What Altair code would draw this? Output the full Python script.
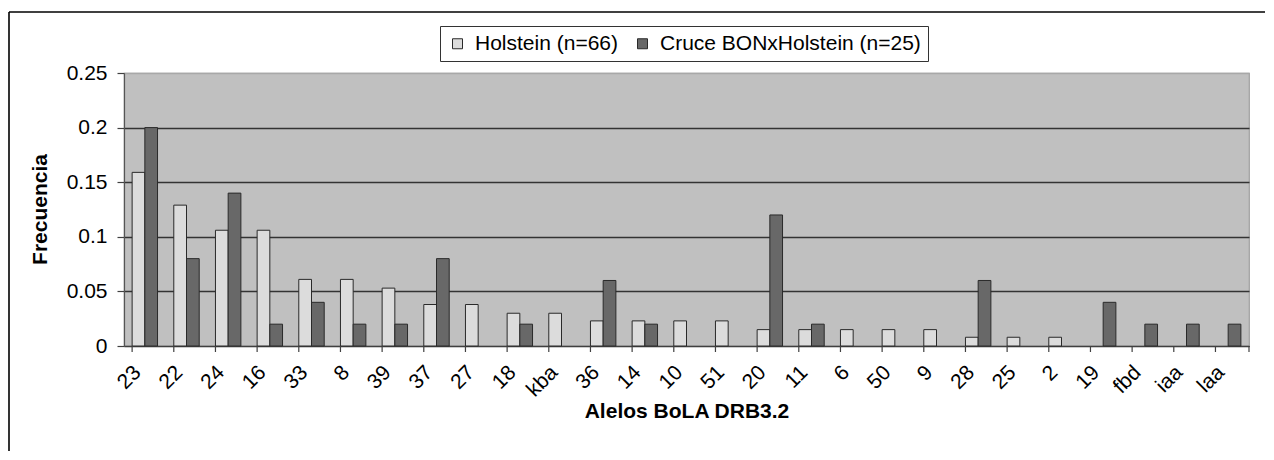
import altair as alt
import pandas as pd

alelos = ["23", "22", "24", "16", "33", "8", "39", "37", "27", "18", "kba", "36", "14",
          "10", "51", "20", "11", "6", "50", "9", "28", "25", "2", "19", "fbd", "iaa", "laa"]
holstein = [0.159, 0.129, 0.106, 0.106, 0.061, 0.061, 0.053, 0.038, 0.038, 0.030, 0.030,
            0.023, 0.023, 0.023, 0.023, 0.015, 0.015, 0.015, 0.015, 0.015, 0.008, 0.008,
            0.008, 0.0, 0.0, 0.0, 0.0]
cruce = [0.20, 0.08, 0.14, 0.02, 0.04, 0.02, 0.02, 0.08, 0.0, 0.02, 0.0, 0.06, 0.02,
         0.0, 0.0, 0.12, 0.02, 0.0, 0.0, 0.0, 0.06, 0.0, 0.0, 0.04, 0.02, 0.02, 0.02]
series = ["Holstein (n=66)", "Cruce BONxHolstein (n=25)"]
y_ticks = [0, 0.05, 0.1, 0.15, 0.2, 0.25]

rows = []
for a, h, c in zip(alelos, holstein, cruce):
    rows.append({"alelo": a, "serie": series[0], "frecuencia": h})
    rows.append({"alelo": a, "serie": series[1], "frecuencia": c})
df = pd.DataFrame(rows)
cats = pd.DataFrame({"alelo": alelos})

FONT = "Liberation Sans"
H = 273

x_enc = alt.X(
    "alelo:N",
    sort=alelos,
    scale=alt.Scale(paddingInner=0.39, paddingOuter=0.195),
    axis=alt.Axis(
        title="Alelos BoLA DRB3.2",
        titleFont=FONT, titleFontSize=21, titleFontWeight="bold", titleColor="black",
        titleY=65, titleBaseline="middle",
        labelFont=FONT, labelFontSize=21, labelColor="black",
        labelAngle=315, labelAlign="right", labelBaseline="middle",
        labelPadding=17, labelOffset=-7, labelOverlap=False,
        tickSize=6, tickOpacity=0,
        domainColor="#404040", domainWidth=1.2,
    ),
)

bars = alt.Chart(df).transform_filter("datum.frecuencia > 0").mark_bar(
    stroke="#2a2a2a", strokeWidth=1
).encode(
    x=x_enc,
    xOffset=alt.XOffset("serie:N", sort=series, scale=alt.Scale(paddingInner=0, paddingOuter=0)),
    y=alt.Y(
        "frecuencia:Q",
        scale=alt.Scale(domain=[0, 0.25], nice=False),
        axis=alt.Axis(
            title="Frecuencia", values=y_ticks,
            titleFont=FONT, titleFontSize=21, titleFontWeight="bold", titleColor="black",
            titleAngle=270, titleX=-84, titleY=136, titleAlign="center", titleBaseline="middle",
            labelFont=FONT, labelFontSize=21, labelColor="black", labelPadding=10,
            labelExpr="format(datum.value, '~g')",
            tickSize=7, tickColor="#404040", tickWidth=1.2,
            domainColor="#555555", domainWidth=1.2,
            grid=True, gridWidth=1.5,
            gridColor={"condition": {"test": "datum.value >= 0.25", "value": "#a8a8a8"}, "value": "#333333"},
        ),
    ),
    color=alt.Color(
        "serie:N",
        sort=series,
        scale=alt.Scale(domain=series, range=["#dcdcdc", "#686868"]),
        legend=alt.Legend(
            title=None, orient="none", legendX=316, legendY=-47, direction="horizontal",
            labelFont=FONT, labelFontSize=21, labelColor="black", labelLimit=500,
            symbolType="square", symbolSize=100, symbolStrokeColor="#2a2a2a", symbolStrokeWidth=1,
            labelOffset=7, columnPadding=14, padding=7,
            strokeColor="#333333", fillColor="white",
        ),
    ),
)

# category separator ticks on the x axis (at the left edge of each band)
sep_ticks = alt.Chart(cats).mark_rule(color="#404040", strokeWidth=1.2).encode(
    x=alt.X("alelo:N", sort=alelos, bandPosition=0),
    y=alt.value(H),
    y2=alt.value(H + 6),
)
end_tick = alt.Chart(alt.Data(values=[{}])).mark_rule(color="#404040", strokeWidth=1.2).encode(
    x=alt.value(1125), y=alt.value(H), y2=alt.value(H + 6)
)

frame_left = alt.Chart(alt.Data(values=[{}])).mark_rule(color="black", strokeWidth=1.6).encode(
    x=alt.value(-115), y=alt.value(-61), y2=alt.value(380)
)
frame_top = alt.Chart(alt.Data(values=[{}])).mark_rule(color="black", strokeWidth=1.6).encode(
    x=alt.value(-115), x2=alt.value(1160), y=alt.value(-61)
)

chart = alt.layer(frame_left, frame_top, bars, sep_ticks, end_tick).properties(
    width=1125,
    height=H,
    autosize=alt.AutoSizeParams(type="none"),
    padding={"left": 116, "top": 65, "right": 16, "bottom": 105},
    background="white",
).configure_view(
    fill="#c0c0c0", stroke="#a0a0a0", strokeWidth=1.2
)

chart.save("out.html", embed_options={"renderer": "svg", "actions": False})
